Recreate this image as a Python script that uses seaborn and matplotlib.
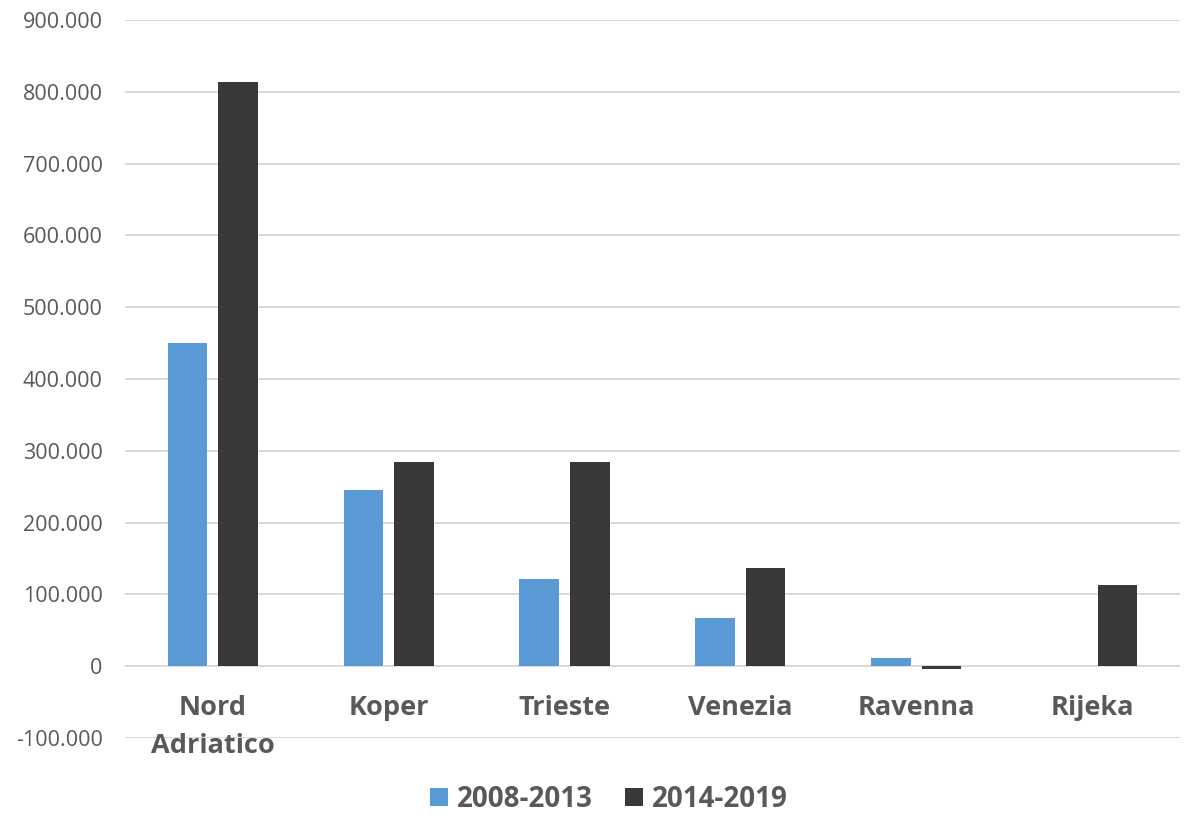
import matplotlib
matplotlib.use("Agg")
import matplotlib.pyplot as plt
import matplotlib.ticker as mticker
import pandas as pd
import seaborn as sns

# Port throughput change by period
ports = ["Nord\nAdriatico", "Koper", "Trieste", "Venezia", "Ravenna", "Rijeka"]
periods = ["2008-2013", "2014-2019"]
change_2008_2013 = [450000, 246000, 122000, 67000, 12000, 800]
change_2014_2019 = [814000, 285000, 284000, 137000, -4500, 113000]
y_ticks = [-100000, 0, 100000, 200000, 300000, 400000, 500000, 600000, 700000, 800000, 900000]

palette = {"2008-2013": "#5B9BD5", "2014-2019": "#3A3937"}
text_color = "#595959"
font = "Open Sans"

df = pd.DataFrame({
    "port": ports * 2,
    "period": [periods[0]] * len(ports) + [periods[1]] * len(ports),
    "value": change_2008_2013 + change_2014_2019,
})

sns.set_theme(style="white")
plt.rcParams["font.family"] = [font, "DejaVu Sans"]

fig = plt.figure(figsize=(11.89, 8.17), dpi=100)
ax = fig.add_axes([0.105, 0.0967, 0.8874, 0.8788])

sns.barplot(data=df, x="port", y="value", hue="period", order=ports,
            hue_order=periods, palette=palette, width=0.576, gap=0.22,
            linewidth=0, saturation=1, ax=ax, legend=True)

ax.set_ylim(y_ticks[0], y_ticks[-1])
ax.set_xlim(-0.5, len(ports) - 0.5)
ax.set_yticks(y_ticks)
ax.yaxis.set_major_formatter(mticker.FuncFormatter(
    lambda v, _: f"{int(v):,}".replace(",", ".")))
ax.yaxis.grid(True, color="#D9D9D9", linewidth=1.4)
ax.set_axisbelow(True)
for s in ax.spines.values():
    s.set_visible(False)
ax.tick_params(axis="y", length=0, pad=16, labelsize=15.5, labelcolor=text_color)
ax.set_xticks([])
ax.set_xlabel("")
ax.set_ylabel("")

# Category names sit just under the zero line
for i, name in enumerate(ports):
    ax.annotate(name, xy=(i, 0), xytext=(0, -21), textcoords="offset points",
                ha="center", va="top", fontsize=19.5, fontweight="bold",
                color=text_color, linespacing=1.6)

handles, labels = ax.get_legend_handles_labels()
ax.get_legend().remove()
leg = fig.legend(handles, labels, loc="lower center", bbox_to_anchor=(0.512, 0.004),
                 ncol=2, frameon=False, handlelength=0.65, handleheight=0.65,
                 handletextpad=0.33, columnspacing=1.15, borderpad=0, borderaxespad=0,
                 prop={"family": font, "size": 20, "weight": "bold"})
for t in leg.get_texts():
    t.set_color(text_color)

fig.savefig("out.png", dpi=100)
